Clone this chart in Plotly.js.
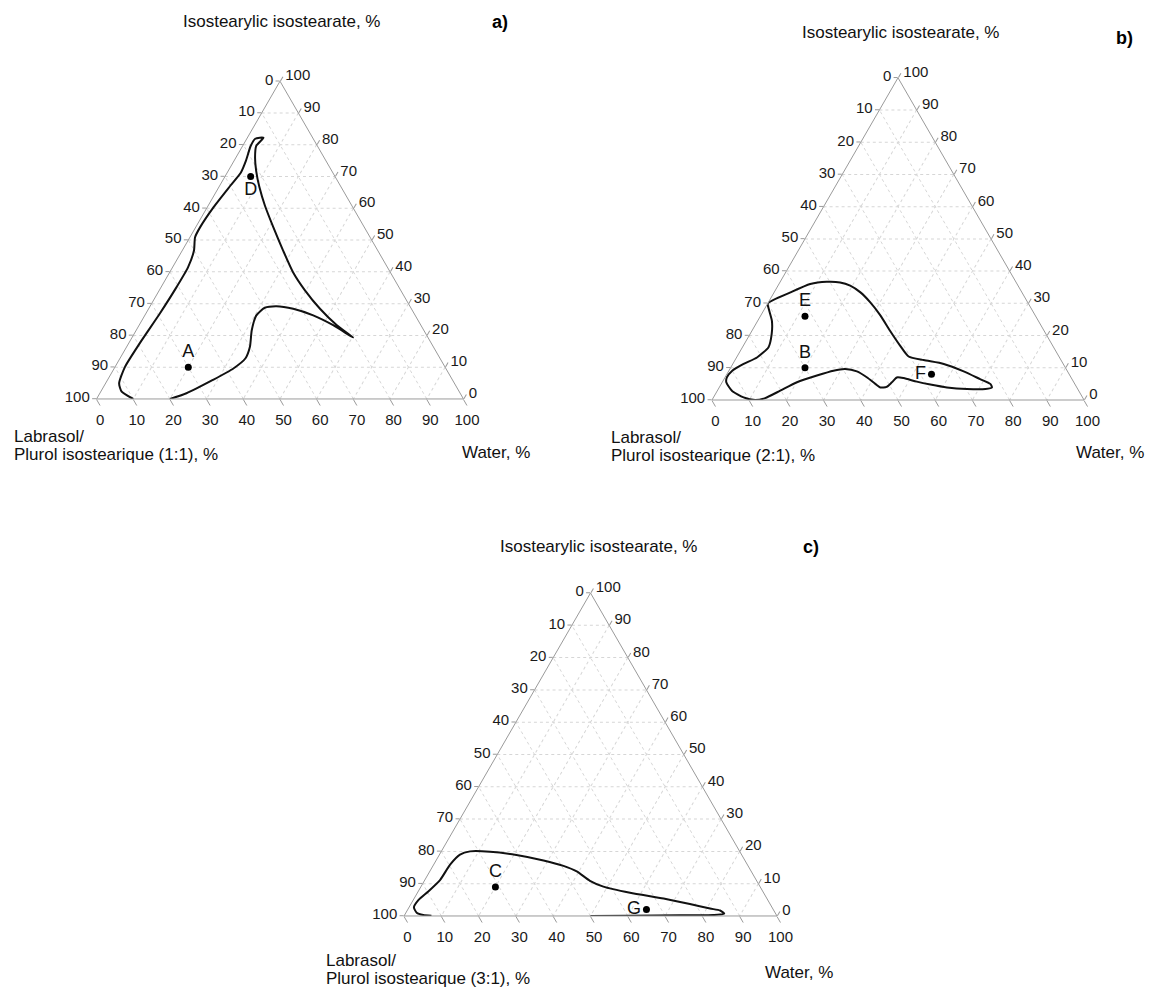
<!DOCTYPE html>
<html>
<head>
<meta charset="utf-8">
<script src="https://cdn.plot.ly/plotly-3.0.1.min.js"></script>
<style>html,body{margin:0;padding:0;background:#fff;}#chart{width:1153px;height:988px;}</style>
</head>
<body>
<div id="chart"></div>
<script>
// ---------- DATA (percent) ----------
// tick values along each edge and the labels printed there (each edge shows the
// complementary component, so the labels run the other way)
const tickVals = [0,10,20,30,40,50,60,70,80,90,100];
const tickText = ['100','90','80','70','60','50','40','30','20','10','0'];

const oilTitle = 'Isostearylic isostearate, %';
const waterTitle = 'Water, %';
const surfLine1 = 'Labrasol/';
const surfLine2 = ['Plurol isostearique (1:1), %',
                   'Plurol isostearique (2:1), %',
                   'Plurol isostearique (3:1), %'];
const panelLabels = ['a)','b)','c)'];

// Panel a) boundary: Labrasol/Plurol (L), oil (O), water (W)
const aL = [80,74.6,65.3,57.9,53.0,50.0,46.9,43.3,39.8,36.4,32.2,27.8,23.9,20.4,
            22.9,24.9,26.1,26.5,25.8,24.8,23.7,22.3,20.6,18.8,16.7,
            13.4,15.8,18.2,21.7,25.0,30.0,38.0,44.8,47.7,50.1,54.3,60.6,69.3,79.5,87.2,91.4,92.0,90];
const aO = [0,1.8,6.0,9.6,12.8,16.4,21.6,26.3,28.7,29.2,28.4,26.3,23.2,19.3,
            23.2,28.4,34.2,39.9,46.7,54.0,60.8,66.6,71.8,76.0,79.6,
            82.2,81.9,79.6,75.1,71.3,67.1,60.3,54.0,50.9,46.7,41.5,35.2,26.9,17.5,10.1,4.9,2.3,0];
const aW = [20,23.6,28.7,32.5,34.2,33.6,31.5,30.4,31.5,34.4,39.4,45.9,52.9,60.3,
            53.9,46.7,39.7,33.6,27.5,21.2,15.5,11.1,7.6,5.2,3.7,
            4.4,2.3,2.2,3.2,3.7,2.9,1.7,1.2,1.4,3.2,4.2,4.2,3.8,3.0,2.7,3.7,5.7,10];
const aPtsName = ['A','D'];
const aPtsL = [70,23];
const aPtsO = [10,70];
const aPtsW = [20,7];

// Panel b) boundary
const bL = [70,62.2,55.6,50.8,47.3,45.1,43.4,42.3,41.6,41.4,41.0,40.4,36.9,32.1,27.9,24.7,22.7,22.8,
            24.8,29.8,34.9,38.9,42.1,45.1,46.8,48.9,51.0,52.8,53.6,54.8,56.6,59.4,62.8,68.0,74.4,80.2,
            85.4,88.4,91.1,93.2,93.4,92.5,90.0,85.9,81.3,76.6,73.7,71.6,70.6,70];
const bO = [30,33.4,36.0,36.7,36.5,35.5,33.4,30.3,26.2,21.5,16.9,13.5,12.4,11.2,8.9,6.5,5.0,3.9,
            3.4,3.4,3.9,4.8,5.7,6.8,7.0,5.5,4.1,3.9,5.0,7.0,8.9,9.6,9.1,7.6,5.5,2.9,
            0.6,0,0.8,2.9,5.5,7.0,9.1,11.2,13.2,16.4,20.5,24.6,28.3,30];
const bW = [0,4.4,8.4,12.5,16.2,19.4,23.2,27.4,32.2,37.1,42.1,46.1,50.7,56.7,63.2,68.8,72.3,73.3,
            71.8,66.8,61.2,56.3,52.2,48.1,46.2,45.6,44.9,43.3,41.4,38.2,34.5,31.0,28.1,24.4,20.1,16.9,
            14.0,11.6,8.1,3.9,1.1,0.5,0.9,2.9,5.5,7.0,5.8,3.8,1.1,0];
const bPtsName = ['E','B','F'];
const bPtsL = [62,70,37];
const bPtsO = [26,10,8];
const bPtsW = [12,20,55];

// Panel c) boundary
const cL = [50,39.4,25.8,16.9,13.8,14.4,16.8,21.5,27.7,35.8,42.0,44.7,46.8,49.5,54.0,60.4,67.0,72.3,
            75.5,79.7,84.7,89.7,93.6,96.0,96.1,94.7,92.6];
const cO = [0,0.1,0.2,0.3,0.7,1.7,2.3,3.7,5.4,7.2,9.1,10.9,13.8,15.5,17.2,18.9,19.9,20.0,
            19.0,15.9,11.2,7.6,5.0,2.7,1.0,0.3,0.1];
const cW = [50,60.5,74.0,82.8,85.5,83.9,80.9,74.8,66.9,57.0,48.9,44.4,39.4,35.0,28.8,20.7,13.1,7.7,
            5.5,4.4,4.1,2.7,1.4,1.3,2.9,5.0,7.3];
const cPtsName = ['C','G'];
const cPtsL = [71,34];
const cPtsO = [9,2];
const cPtsW = [20,64];

// ---------- STYLE ----------
const FONT = 'Liberation Sans, Arial, sans-serif';
const NB = '\u00a0';
function tax(len, extra){
  return Object.assign({
    min:0, tickmode:'array', tickvals:tickVals, ticktext:tickText,
    ticks:'outside', ticklen:len, tickcolor:'#9a9a9a', tickwidth:1,
    linecolor:'#9a9a9a', linewidth:1,
    showgrid:true, gridcolor:'#d6d6d6', gridwidth:1, griddash:'dot',
    tickfont:{family:FONT, size:15, color:'#1a1a1a'},
    title:{text:''}
  }, extra||{});
}
function tern(dx, dy){
  return {sum:100, bgcolor:'#fff', domain:{x:dx, y:dy},
          aaxis:tax(4, {ticksuffix:NB}),
          baxis:tax(7),
          caxis:tax(5, {tickprefix:NB+NB})};
}
function curve(sub, L, O, W){
  return {type:'scatterternary', subplot:sub, mode:'lines', a:O, b:L, c:W,
          line:{color:'#111', width:2, shape:'spline', smoothing:0.6},
          hoverinfo:'skip', showlegend:false};
}
function pts(sub, names, L, O, W, pos){
  return {type:'scatterternary', subplot:sub, mode:'markers+text', a:O, b:L, c:W,
          text:names, textposition:pos,
          textfont:{family:FONT, size:18, color:'#111'},
          marker:{color:'#000', size:7}, showlegend:false};
}

const data = [
  curve('ternary', aL, aO, aW),
  pts('ternary', aPtsName, aPtsL, aPtsO, aPtsW, ['top center','bottom center']),
  curve('ternary2', bL, bO, bW),
  pts('ternary2', bPtsName, bPtsL, bPtsO, bPtsW, ['top center','top center','middle left']),
  curve('ternary3', cL, cO, cW),
  pts('ternary3', cPtsName, cPtsL, cPtsO, cPtsW, ['top center','middle left'])
];

function ann(text, x, y, xa, ya, extra){
  return Object.assign({text:text, x:x, y:y, xref:'paper', yref:'paper',
    xanchor:xa, yanchor:ya, showarrow:false, align:'left',
    font:{family:FONT, size:17, color:'#111'}}, extra||{});
}
const bold = {font:{family:FONT, size:18, color:'#000', weight:'bold'}};

const layout = {
  width:1153, height:988, paper_bgcolor:'#fff',
  margin:{l:0, r:0, t:0, b:0},
  font:{family:FONT, color:'#111'},
  ternary:  tern([0.0837,0.4020],[0.5962,0.9178]),
  ternary2: tern([0.6175,0.9402],[0.5951,0.9213]),
  ternary3: tern([0.3504,0.6739],[0.0729,0.3998]),
  annotations:[
    ann(oilTitle, 0.2443, 0.9780, 'center','middle'),
    ann(surfLine1, 0.0101, 0.5577, 'left','middle'),
    ann(surfLine2[0], 0.0101, 0.5395, 'left','middle'),
    ann(waterTitle, 0.3990, 0.5425, 'left','middle'),
    ann(panelLabels[0], 0.4337, 0.9777, 'center','middle', bold),
    ann(oilTitle, 0.7806, 0.9666, 'center','middle'),
    ann(surfLine1, 0.5282, 0.5567, 'left','middle'),
    ann(surfLine2[1], 0.5282, 0.5385, 'left','middle'),
    ann(waterTitle, 0.9315, 0.5415, 'left','middle'),
    ann(panelLabels[1], 0.9757, 0.9615, 'center','middle', bold),
    ann(oilTitle, 0.5195, 0.4464, 'center','middle'),
    ann(surfLine1, 0.2810, 0.0283, 'left','middle'),
    ann(surfLine2[2], 0.2810, 0.0101, 'left','middle'),
    ann(waterTitle, 0.6617, 0.0152, 'left','middle'),
    ann(panelLabels[2], 0.7034, 0.4464, 'center','middle', bold)
  ]
};
Plotly.newPlot('chart', data, layout, {displayModeBar:false, staticPlot:true});
</script>
</body>
</html>
